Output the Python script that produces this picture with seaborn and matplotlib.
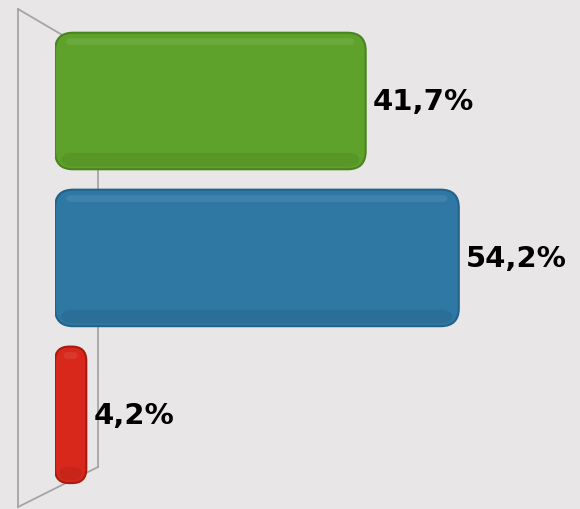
import matplotlib
matplotlib.use("Agg")
import matplotlib.pyplot as plt
import seaborn as sns
import pandas as pd
from matplotlib.patches import FancyBboxPatch
from matplotlib.lines import Line2D

categories = ["Categoria 1", "Categoria 2", "Categoria 3"]
values = [41.7, 54.2, 4.2]
labels = ["41,7%", "54,2%", "4,2%"]
colors = ["#5ea22b", "#2f78a4", "#d8281b"]
edge_colors = ["#4a8420", "#23628a", "#a81b12"]

df = pd.DataFrame({"cat": categories, "val": values})

W, H = 580, 510
fig = plt.figure(figsize=(W / 100, H / 100), dpi=100)
bg = "#e8e6e6"
fig.patch.set_facecolor(bg)

# 3D wall lines (decoration)
wall = "#a5a5a5"
for (x0, y0, x1, y1) in [(18, 10, 18, 508), (18, 10, 98, 57), (18, 508, 98, 468), (98, 57, 98, 468)]:
    fig.add_artist(Line2D([x0 / W, x1 / W], [1 - y0 / H, 1 - y1 / H], color=wall, lw=1.3, zorder=0))

ax = fig.add_axes([55 / W, 0, (W - 55) / W, 1])
ax.set_facecolor("none")
sns.barplot(data=df, x="val", y="cat", hue="cat", palette=colors, orient="h",
            width=0.87, legend=False, ax=ax, saturation=1)

xmax = (W - 55) / 7.45
ax.set_xlim(0, xmax)
ax.set_ylim(2.6, -0.65)

px_x = (W - 55) / xmax          # pixels per x unit
px_y = H / (2.6 + 0.65)         # pixels per y unit
aspect = px_x / px_y

patches = list(ax.patches)
for i, p in enumerate(patches):
    x, y, w, h = p.get_x(), p.get_y(), p.get_width(), p.get_height()
    wpx = w * px_x
    r_px = min(18, wpx / 2.2)
    r = r_px / px_x
    fb = FancyBboxPatch((x, y), w, h,
                        boxstyle=f"round,pad=0,rounding_size={r}",
                        mutation_aspect=aspect,
                        facecolor=p.get_facecolor(), edgecolor=edge_colors[i],
                        lw=1.5, zorder=3)
    ax.add_patch(fb)
    # darker bottom shading
    sh = FancyBboxPatch((x + r * 0.3, y + h * 0.88), max(w - r * 0.6, 0.01), h * 0.10,
                        boxstyle=f"round,pad=0,rounding_size={r*0.6}",
                        mutation_aspect=aspect,
                        facecolor="black", edgecolor="none", alpha=0.07, zorder=4)
    ax.add_patch(sh)
    # light highlight on top
    hl = FancyBboxPatch((x + r * 0.6, y + h * 0.04), max(w - r * 1.2, 0.01), h * 0.05,
                        boxstyle=f"round,pad=0,rounding_size={r*0.3}",
                        mutation_aspect=aspect,
                        facecolor="white", edgecolor="none", alpha=0.08, zorder=4)
    ax.add_patch(hl)
    p.set_visible(False)

for i, (v, lab) in enumerate(zip(values, labels)):
    ax.text(v + 1.0, i, lab, ha="left", va="center", fontsize=21,
            fontweight="bold", family="DejaVu Sans", color="black", zorder=5)

ax.set_axis_off()
fig.savefig("out.png", dpi=100, facecolor=bg)
